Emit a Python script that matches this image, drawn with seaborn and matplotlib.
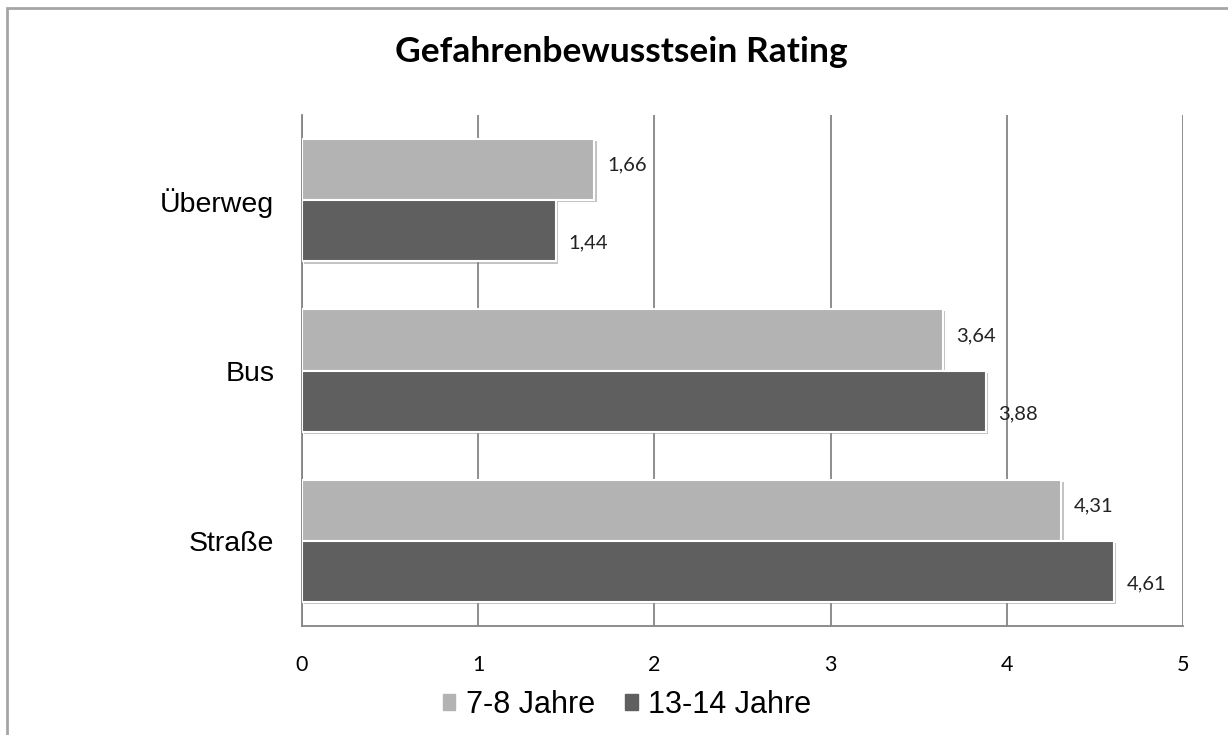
import numpy as np
import pandas as pd
import seaborn as sns
import matplotlib.pyplot as plt
import matplotlib.patheffects as pe
from matplotlib.patches import Rectangle

# Chart data
situations = ["Überweg", "Bus", "Straße"]
groups = ["7-8 Jahre", "13-14 Jahre"]
rating_young = [1.66, 3.64, 4.31]
rating_old = [1.44, 3.88, 4.61]
x_ticks = [0, 1, 2, 3, 4, 5]

df = pd.DataFrame({
    "Situation": situations * 2,
    "Alter": [groups[0]] * len(situations) + [groups[1]] * len(situations),
    "Rating": rating_young + rating_old,
})

sns.set_style("white")
plt.rcParams["font.family"] = ["Liberation Sans", "DejaVu Sans"]
plt.rcParams["text.color"] = "black"
plt.rcParams["xtick.color"] = "black"
plt.rcParams["ytick.color"] = "black"

light, dark = "#b3b3b3", "#5f5f5f"
grid_col = "#858585"

fig = plt.figure(figsize=(12.28, 7.35), dpi=100)
ax = fig.add_axes([302 / 1228, 1 - 626 / 735, (1183 - 302) / 1228, (626 - 115) / 735])

sns.barplot(data=df, x="Rating", y="Situation", hue="Alter", orient="h",
            palette=[light, dark], width=0.72, edgecolor="white", linewidth=1.5,
            ax=ax, legend=False, zorder=3)

for patch in ax.patches:
    patch.set_path_effects([pe.SimplePatchShadow(offset=(1.5, -1.5), shadow_rgbFace="#888888", alpha=0.5),
                            pe.Normal()])

# value labels with comma decimals (light ones sit a bit high, dark ones a bit low)
for cont, vals, dy in zip(ax.containers, [rating_young, rating_old], [3, -9]):
    texts = ax.bar_label(cont, labels=[f"{v:.2f}".replace(".", ",") for v in vals],
                         padding=9, fontsize=14.5, family="Lato", color="#222222")
    for t in texts:
        t.xyann = (9, dy)

ax.set_xlim(0, 5)
ax.set_ylim(2.5, -0.5)
ax.set_xticks(x_ticks)
ax.set_xticklabels([str(t) for t in x_ticks], fontsize=15.5, family="Lato")
ax.tick_params(axis="x", length=0, pad=21)
ax.tick_params(axis="y", length=0, pad=20, labelsize=20.5)
ax.set_xlabel("")
ax.set_ylabel("")

ax.grid(axis="x", color=grid_col, linewidth=1.3, zorder=0)
ax.set_axisbelow(True)
for s in ["top", "right"]:
    ax.spines[s].set_visible(False)
for s in ["left", "bottom"]:
    ax.spines[s].set_color(grid_col)
    ax.spines[s].set_linewidth(1.3)

fig.text(621 / 1228, 1 - 52 / 735, "Gefahrenbewusstsein Rating", ha="center", va="center",
         fontsize=25.5, fontweight="bold", family="Lato", color="black")

handles = [Rectangle((0, 0), 1, 1, color=light), Rectangle((0, 0), 1, 1, color=dark)]
fig.legend(handles, groups, loc="center", bbox_to_anchor=(627 / 1228, 1 - 705 / 735), ncol=2,
           frameon=False, fontsize=22, handlelength=0.4, handleheight=0.4,
           handletextpad=0.35, columnspacing=1.0)

# outer chart frame
fig.add_artist(Rectangle((7 / 1228, -0.1), 1.2, 1 - 8 / 735 + 0.1, transform=fig.transFigure,
                         fill=False, edgecolor="#a6a6a6", linewidth=2))

fig.savefig("out.png", dpi=100)
